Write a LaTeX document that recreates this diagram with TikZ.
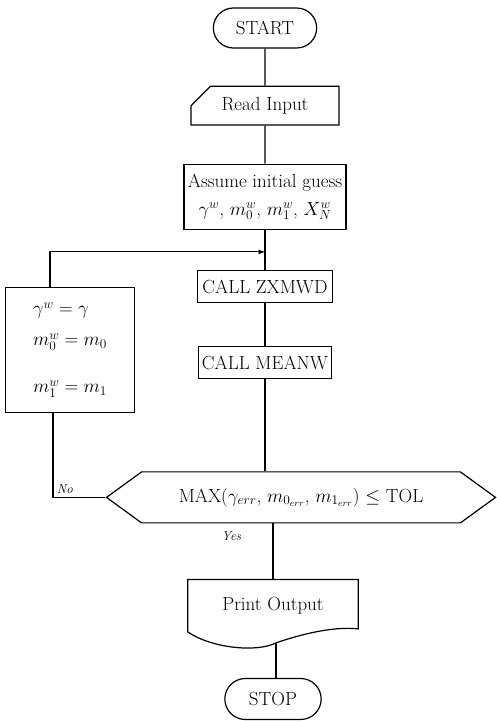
\RequirePackage{fix-cm}
\documentclass[tikz,border=0pt]{standalone}
\usepackage{fontspec}
\usetikzlibrary{shapes.misc, shapes.symbols, arrows, positioning, calc}

\begin{document}
\begin{tikzpicture}[
		x=1pt, y=-1pt,
		every node/.style={font=\fontsize{19}{25}\selectfont},
		term/.style={rounded rectangle, draw, line width=1.2pt, minimum width=110pt, minimum height=40pt},
		card/.style={chamfered rectangle, chamfered rectangle corners=north west, chamfered rectangle xsep=16pt, chamfered rectangle ysep=10pt, draw, line width=1.2pt, inner ysep=1pt, minimum width=148pt, minimum height=34pt},
		proc/.style={rectangle, draw, line width=1.2pt, minimum height=32pt, align=center},
		decide/.style={signal, signal to=west and east, signal pointer angle=72, draw, line width=1.2pt, minimum width=389pt, minimum height=51pt, inner sep=0pt},
		doc/.style={rectangle, minimum width=170pt, minimum height=52pt},
		line/.style={line width=1.2pt},
		arrow/.style={-latex, line width=1.2pt},
		lbl/.style={font=\itshape\fontsize{13}{15}\selectfont}
		]
		\useasboundingbox (0,0) rectangle (496,721);
		
		\node[term] (start) at (265,28) {START};
		\node[card, below=37pt of start] (read) {Read Input};
		\node[proc, minimum width=162pt, minimum height=65pt, inner ysep=2pt, below=38pt of read] (assume) {Assume initial guess\\[3pt] $\gamma^w$, $m_0^w$, $m_1^w$, $X_N^w$};
		\node[proc, minimum width=135pt, below=40pt of assume] (zx) {CALL ZXMWD};
		\node[proc, minimum width=132pt, below=43pt of zx] (mean) {CALL MEANW};
		\node[decide, below=92pt of mean, xshift=36pt] (test) {MAX($\gamma_{err}$, $m_{0_{err}}$, $m_{1_{err}}$) $\leq$ TOL};
		\node[doc, below=56pt of test, xshift=-28pt] (print) {Print Output};
		\node[term, minimum width=103pt, minimum height=41pt, below=46pt of print] (stop) {STOP};
		\node[proc, minimum width=129pt, minimum height=125pt, align=left] (update) at (70,350) {$\gamma^w = \gamma$\\[6pt] $m_0^w = m_0$\\[22pt] $m_1^w = m_1$};
		
		% document outline of the output box
		\coordinate (bend) at ($(print.south)+(3,11)$);
		\draw[line] (print.south west) -- (print.north west) -- (print.north east) -- ($(print.south east)+(0,-3)$)
			.. controls ($(print.south east)+(-27,-6)$) and ($(bend)+(20,-7)$) .. (bend)
			.. controls ($(bend)+(-20,10)$) and ($(print.south west)+(23,16)$) .. (print.south west) -- cycle;
		
		\coordinate (join) at ($(assume.south)!0.55!(zx.north)$);
		
		\draw[line] (start) -- (read);
		\draw[line] (read) -- (assume);
		\draw[line] (assume) -- (zx);
		\draw[line] (zx) -- (mean);
		\draw[line] (mean) -- (mean |- test.north);
		\draw[line] (test.south -| print.north) -- node[pos=0.22, left=28pt, lbl]{Yes} (print.north);
		\draw[line] (bend) -- (bend |- stop.north);
		\draw[line] (test.west) -| node[pos=0.5, above right, lbl]{No} ($(update.south)+(-17,0)$);
		\draw[arrow] ($(update.north)+(-20,0)$) |- (join);
		
	\end{tikzpicture}
\end{document}
